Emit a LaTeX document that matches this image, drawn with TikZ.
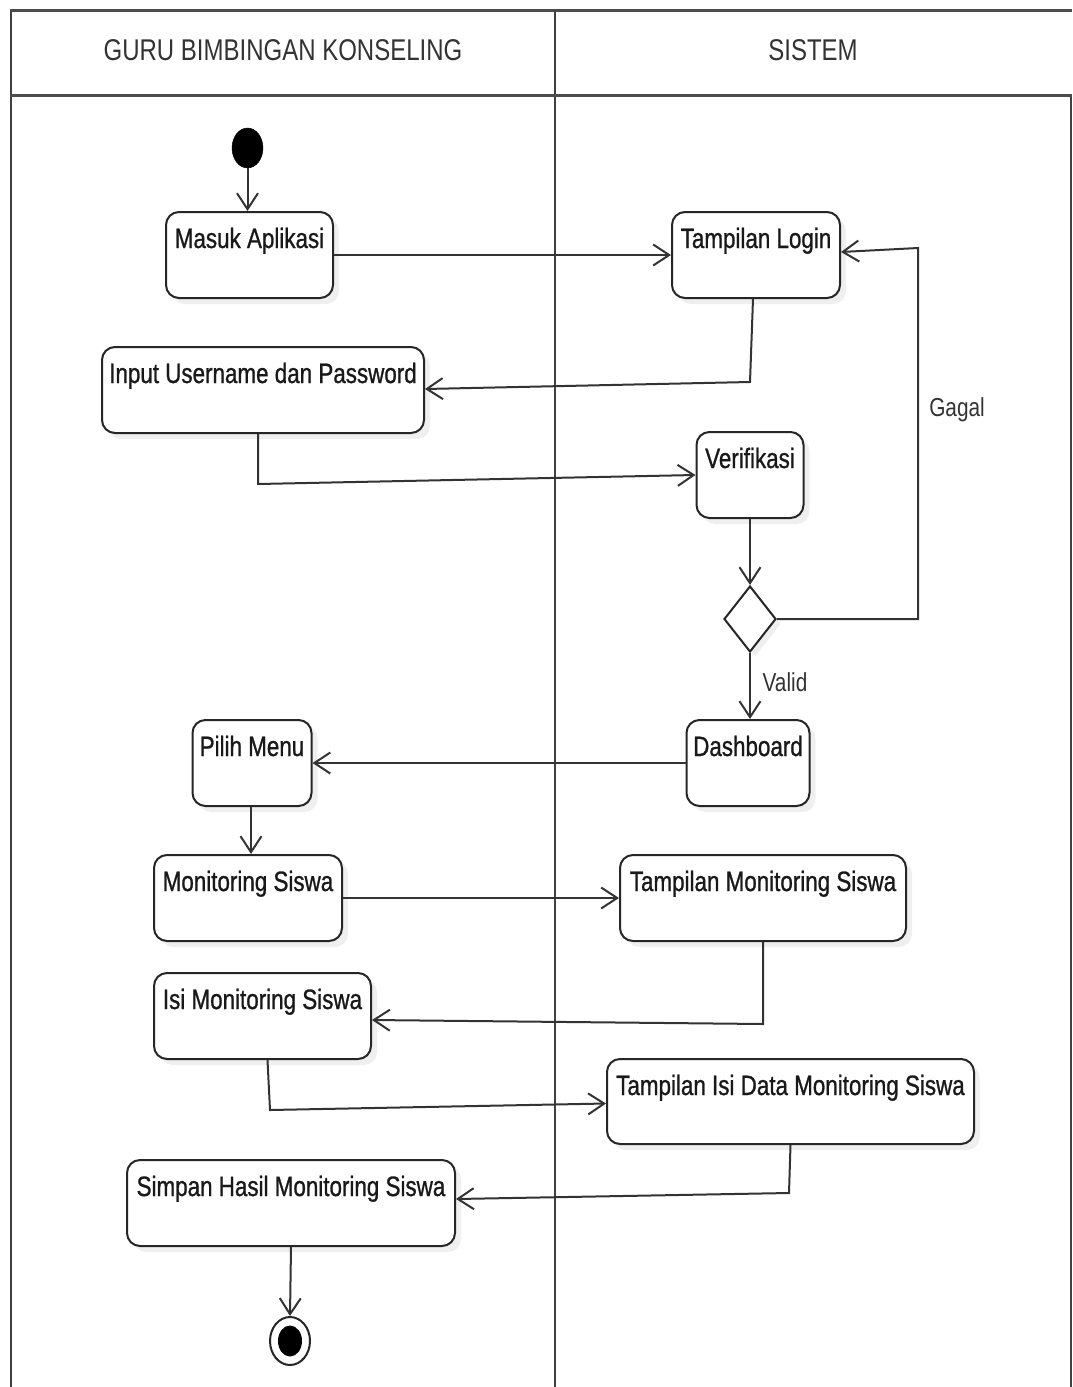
\documentclass[tikz,border=0pt]{standalone}
\usepackage{fontspec}
\setmainfont{Liberation Sans}[FakeStretch=0.8]
\newfontfamily\actfont{Liberation Sans}[FakeStretch=0.8, FakeBold=0.9]
\usetikzlibrary{arrows.meta,shapes.geometric,shadows}
\begin{document}
\begin{tikzpicture}[x=1pt,y=-1pt,
  lane/.style={line width=2pt, draw=black!75},
  lanehead/.style={line width=3pt, draw=black!70},
  headtext/.style={font=\fontsize{30}{32}\selectfont, text=black!80},
  act/.style={draw=black!85, line width=2pt, rounded corners=13pt, fill=white,
    inner sep=0pt, minimum height=86pt,
    drop shadow={opacity=0.12, shadow xshift=6pt, shadow yshift=-6pt}},
  acttext/.style={font=\actfont\fontsize{28}{30}\selectfont, text=black!90, anchor=base, yshift=-37pt},
  flow/.style={draw=black!80, line width=2pt, -{Straight Barb[length=16pt,width=21pt,line width=2pt]}},
  guard/.style={font=\fontsize{26}{28}\selectfont, text=black!80},
  decision/.style={diamond, draw=black!85, line width=2pt, fill=white, inner sep=0pt,
    minimum width=52pt, minimum height=66pt,
    drop shadow={opacity=0.12, shadow xshift=5pt, shadow yshift=-5pt}},
  startnode/.style={ellipse, fill=black, draw=black, inner sep=0pt,
    minimum width=31pt, minimum height=40pt},
]
\useasboundingbox[fill=white] (0,0) rectangle (1072,1387);

% swimlanes
\draw[lane] (11,10) -- (11,1387);
\draw[lane] (555,10) -- (555,1387);
\draw[lane] (1071,95) -- (1071,1387);
\draw[lanehead] (10,10) -- (1072,10);
\draw[lanehead] (10,95) -- (1072,95);
\node[headtext] (laneA) at (283,50) {GURU BIMBINGAN KONSELING};
\node[headtext] (laneB) at (813,50) {SISTEM};

% initial and final states
\node[startnode] (start) at (247.5,148) {};
\node[ellipse, draw=black!85, line width=2pt, fill=white, inner sep=0pt,
  minimum width=40pt, minimum height=48pt] (final) at (290,1341) {};
\node[ellipse, fill=black, inner sep=0pt, minimum width=24pt, minimum height=31pt] (finaldot) at (final) {};

% actions
\node[act, minimum width=167pt, label={[acttext]north:Masuk Aplikasi}] (masuk) at (249.5,255) {};
\node[act, minimum width=168pt, label={[acttext]north:Tampilan Login}] (login) at (756,255) {};
\node[act, minimum width=322pt, label={[acttext]north:Input Username dan Password}] (input) at (263,390) {};
\node[act, minimum width=107pt, label={[acttext]north:Verifikasi}] (verif) at (750,475) {};
\node[decision] (dec) at (750,619) {};
\node[act, minimum width=123pt, label={[acttext]north:Dashboard}] (dash) at (748,763) {};
\node[act, minimum width=119pt, label={[acttext]north:Pilih Menu}] (pilih) at (252,763) {};
\node[act, minimum width=188pt, label={[acttext]north:Monitoring Siswa}] (mon) at (248,898) {};
\node[act, minimum width=286pt, label={[acttext]north:Tampilan Monitoring Siswa}] (tmon) at (763,898) {};
\node[act, minimum width=217pt, label={[acttext]north:Isi Monitoring Siswa}] (isi) at (262.5,1016) {};
\node[act, minimum width=367pt, minimum height=85pt, label={[acttext]north:Tampilan Isi Data Monitoring Siswa}] (tisi) at (790.5,1101.5) {};
\node[act, minimum width=328pt, label={[acttext]north:Simpan Hasil Monitoring Siswa}] (simpan) at (291,1203) {};

% bend points
\coordinate (b1) at (750,382);
\coordinate (b2) at (258,484);
\coordinate (b3) at (918,619);
\coordinate (b4) at (918,248);
\coordinate (b5) at (763,1024);
\coordinate (b6) at (270,1110);
\coordinate (b7) at (789,1193);

% control flow
\draw[flow] (start) -- (start |- masuk.north);
\draw[flow] (masuk.east) -- (login.west);
\draw[flow] ([xshift=-3pt]login.south) -- (b1) -- ([yshift=1pt]input.east);
\draw[flow] ([xshift=-5pt]input.south) -- (b2) -- (verif.west);
\draw[flow] (verif.south) -- (dec.north);
\draw[flow] (dec.east) -- (b3) -- (b4) -- ([yshift=3pt]login.east);
\node[guard] (gagal) at (957,410) {Gagal};
\draw[flow] (dec.south) -- (dec.south |- dash.north);
\node[guard] (valid) at (785,682) {Valid};
\draw[flow] (dash.west) -- (pilih.east);
\draw[flow] ([xshift=-1pt]pilih.south) -- ([xshift=-1pt]pilih.south |- mon.north);
\draw[flow] (mon.east) -- (tmon.west);
\draw[flow] (tmon.south) -- (b5) -- ([yshift=-4pt]isi.east);
\draw[flow] ([xshift=5pt]isi.south) -- (b6) -- ([yshift=-2pt]tisi.west);
\draw[flow] (tisi.south) -- (b7) -- ([yshift=4pt]simpan.east);
\draw[flow] (simpan.south) -- (final.north);
\end{tikzpicture}
\end{document}
